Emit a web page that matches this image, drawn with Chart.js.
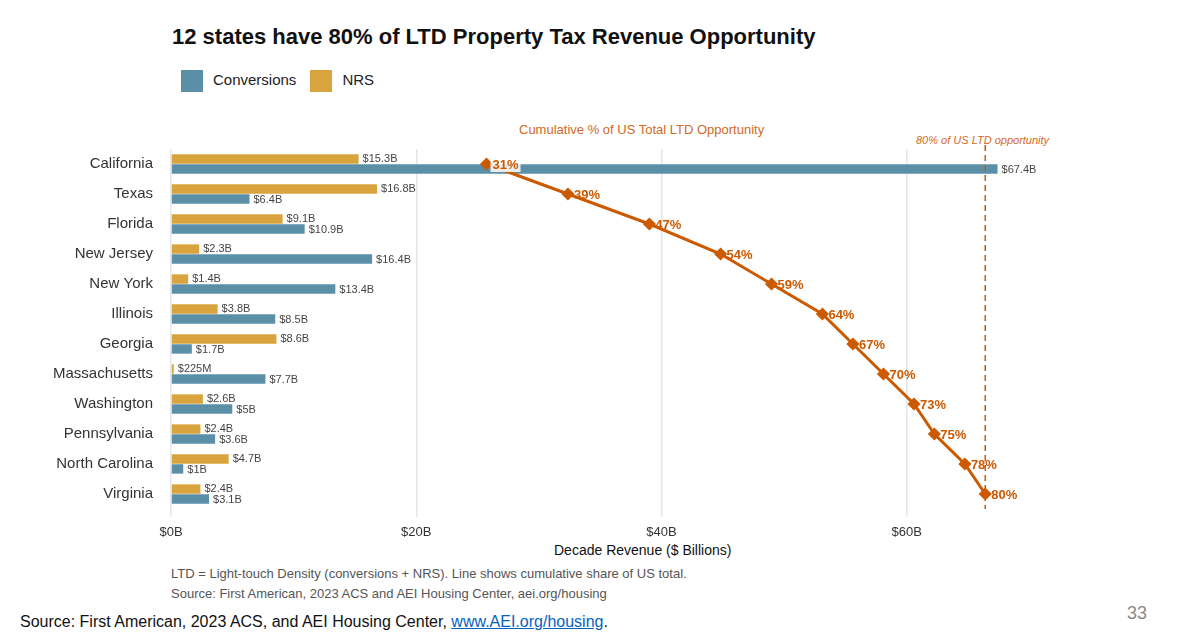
<!DOCTYPE html>
<html><head><meta charset="utf-8">
<script src="https://cdn.jsdelivr.net/npm/chart.js@4"></script>
<style>
body{margin:0;width:1200px;height:639px;background:#fff;font-family:"Liberation Sans",Arial,sans-serif;position:relative;overflow:hidden}
.t{position:absolute;white-space:nowrap}
#wrap{position:absolute;left:0;top:130px;width:1200px;height:407px}
.sw{display:inline-block;width:22px;height:22px;vertical-align:middle;margin-right:10px}
</style></head><body>
<div class="t" style="left:172px;top:24px;font-size:22px;font-weight:bold;color:#111">12 states have 80% of LTD Property Tax Revenue Opportunity</div>
<div class="t" style="left:181px;top:70px;font-size:15px;color:#222"><span class="sw" style="background:#5b8fa8"></span>Conversions<span class="sw" style="background:#d9a43e;margin-left:14px"></span>NRS</div>
<div class="t" style="left:519px;top:122px;font-size:13px;color:#d2691e">Cumulative % of US Total LTD Opportunity</div>
<div class="t" style="left:916px;top:134px;font-size:11px;font-style:italic;color:#d2691e">80% of US LTD opportunity</div>
<div class="t" style="left:554px;top:542px;font-size:14px;color:#111">Decade Revenue ($ Billions)</div>
<div class="t" style="left:171px;top:566px;font-size:13px;color:#555">LTD = Light-touch Density (conversions + NRS). Line shows cumulative share of US total.</div>
<div class="t" style="left:171px;top:586px;font-size:13px;color:#555">Source: First American, 2023 ACS and AEI Housing Center, aei.org/housing</div>
<div class="t" style="left:20px;top:613px;font-size:16px;color:#111">Source: First American, 2023 ACS, and AEI Housing Center, <span style="color:#0563c1;text-decoration:underline">www.AEI.org/housing</span>.</div>
<div class="t" style="left:1127px;top:603px;font-size:18px;color:#888">33</div>
<div id="wrap"><canvas id="c"></canvas></div>
<script>
const states=['California','Texas','Florida','New Jersey','New York','Illinois','Georgia','Massachusetts','Washington','Pennsylvania','North Carolina','Virginia'];
const conversions=[67.4,6.4,10.9,16.4,13.4,8.5,1.7,7.7,5,3.6,1,3.1];
const nrs=[15.3,16.8,9.1,2.3,1.4,3.8,8.6,0.225,2.6,2.4,4.7,2.4];
const convLbl=['$67.4B','$6.4B','$10.9B','$16.4B','$13.4B','$8.5B','$1.7B','$7.7B','$5B','$3.6B','$1B','$3.1B'];
const nrsLbl=['$15.3B','$16.8B','$9.1B','$2.3B','$1.4B','$3.8B','$8.6B','$225M','$2.6B','$2.4B','$4.7B','$2.4B'];
const cumPct=[31,39,47,54,59,64,67,70,73,75,78,80];
const pctScale=0.83; // $B on x axis per 1% of US total
const ORANGE='#cc5a00';

const labelPlugin={id:'lbl',afterDatasetsDraw(ch){
  const c=ch.ctx;c.save();c.textBaseline='middle';
  c.font='11px "Liberation Sans",Arial';c.fillStyle='#444';c.textAlign='left';
  ch.getDatasetMeta(0).data.forEach((b,i)=>c.fillText(nrsLbl[i],b.x+4,b.y));
  ch.getDatasetMeta(1).data.forEach((b,i)=>c.fillText(convLbl[i],b.x+4,b.y+1));
  const xs=ch.scales.x,ar=ch.chartArea,dx=xs.getPixelForValue(80*pctScale);
  c.strokeStyle=ORANGE;c.lineWidth=1.5;c.setLineDash([6,4]);
  c.beginPath();c.moveTo(dx,ar.top-4);c.lineTo(dx,ar.bottom);c.stroke();c.setLineDash([]);
  c.font='bold 13px "Liberation Sans",Arial';
  ch.getDatasetMeta(2).data.forEach((p,i)=>{
    const t=cumPct[i]+'%',w=c.measureText(t).width;
    if(i==0){c.fillStyle='rgba(255,255,255,0.85)';c.fillRect(p.x+4,p.y-8,w+4,16);}
    c.fillStyle=ORANGE;c.fillText(t,p.x+6,p.y+1);
  });
  c.restore();
}};

new Chart(document.getElementById('c'),{
  type:'bar',
  data:{labels:states,datasets:[
    {label:'NRS',data:nrs,backgroundColor:'#d9a43e',order:2},
    {label:'Conversions',data:conversions,backgroundColor:'#5b8fa8',order:2},
    {type:'line',label:'Cumulative',data:cumPct.map(p=>p*pctScale),borderColor:ORANGE,backgroundColor:ORANGE,
     borderWidth:3,pointStyle:'rectRot',pointRadius:4.5,order:1}
  ]},
  options:{indexAxis:'y',responsive:true,maintainAspectRatio:false,animation:false,
    categoryPercentage:0.66,barPercentage:0.95,
    layout:{padding:{left:0,right:189,top:0,bottom:0}},
    plugins:{legend:{display:false},tooltip:{enabled:false}},
    scales:{
      x:{min:0,max:68.5,border:{display:false},
        grid:{color:c=>c.tick&&c.tick.value%20===0?'#e6e6e6':'transparent',lineWidth:1.5},
        ticks:{stepSize:20,color:'#333',font:{size:13},padding:8,callback:v=>v%20===0?'$'+v+'B':''},
        afterFit:s=>{s.height=28}},
      y:{grid:{display:false},border:{display:false},
        ticks:{color:'#333',font:{size:15},padding:10},
        afterFit:s=>{s.width=171}}
    }},
  plugins:[labelPlugin]
});
</script></body></html>
